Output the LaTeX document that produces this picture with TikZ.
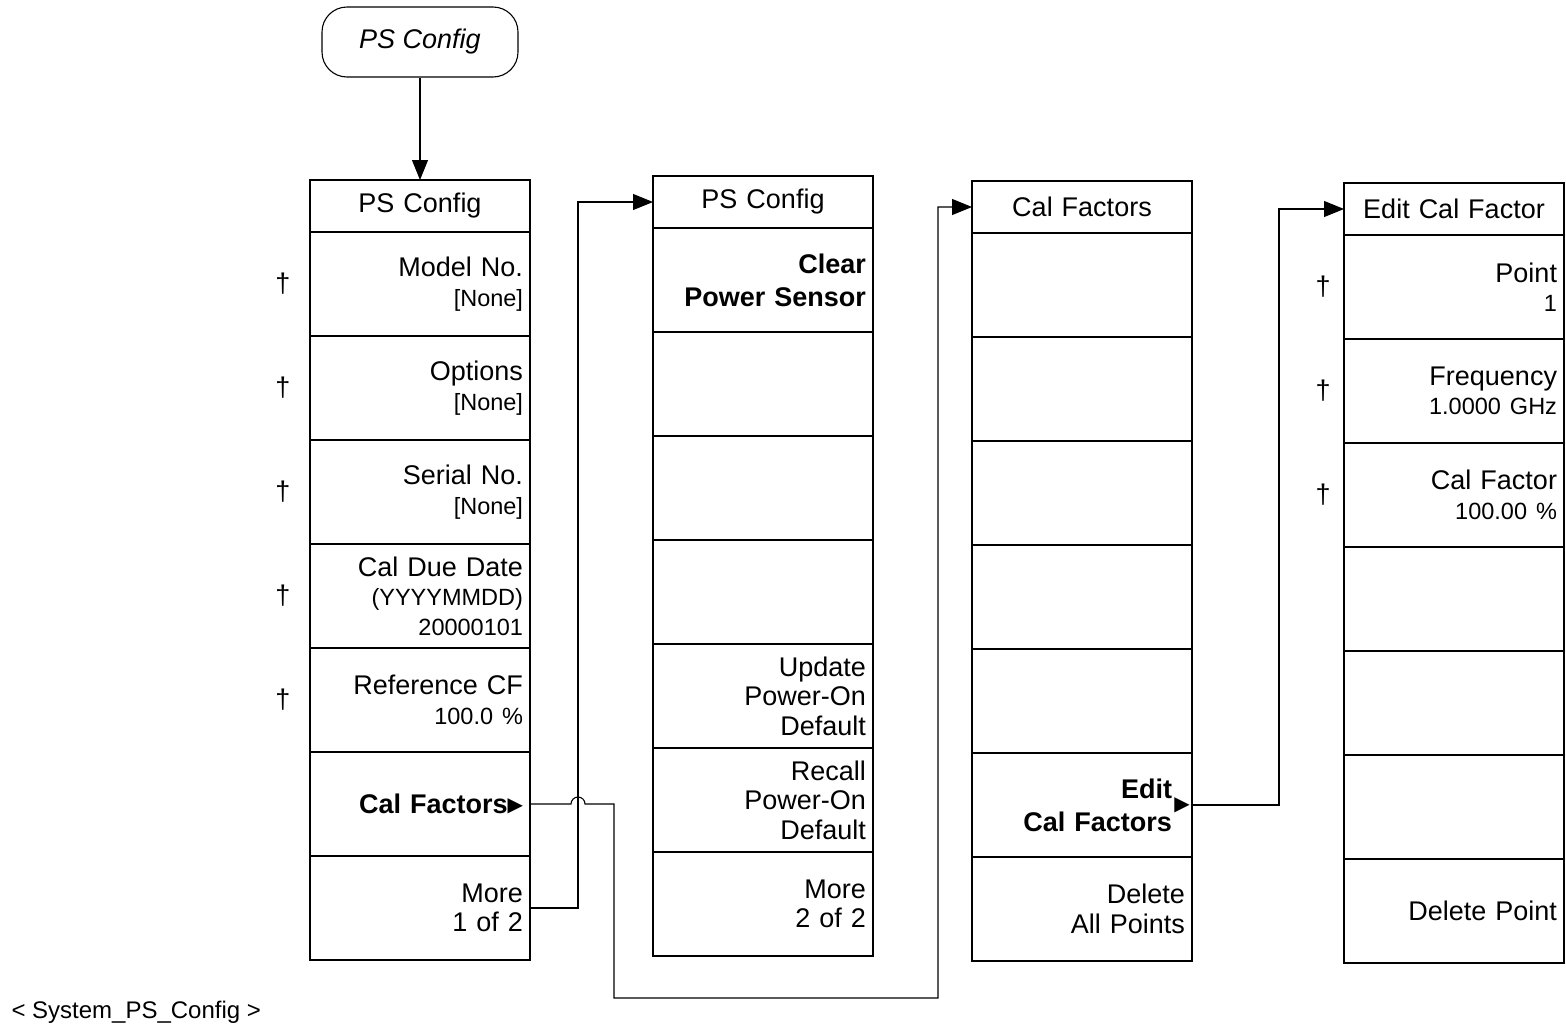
\documentclass[tikz,border=0pt]{standalone}
\usepackage{fontspec}
\setmainfont{Liberation Sans}
\newfontfamily\symfont{DejaVu Sans}
\usepackage{tikz}
\usetikzlibrary{arrows.meta,calc}
\newcommand\keyfont{\fontsize{27}{29.5}\selectfont}
\newcommand\smtxt[1]{{\fontsize{23.5}{27}\selectfont #1}}
\newcommand\keytri{{\symfont\fontsize{20}{20}\selectfont\raisebox{2pt}{▶}}}

\begin{document}
\begin{tikzpicture}[x=1pt, y=-1pt, >={Triangle[length=20pt,width=16pt]},
  key/.style={draw, line width=1.2pt, outer sep=0pt, inner xsep=7pt, inner ysep=0pt,
    text width=206pt, minimum height=104pt, align=right, font=\keyfont},
  keytitle/.style={key, minimum height=52pt, align=center},
  link/.style={->, line width=1.1pt},
  dag/.style={font=\keyfont}]
  \useasboundingbox (0,0) rectangle (1566,1031);

  \node[draw, line width=1.1pt, rounded corners=25pt, minimum width=196pt,
    minimum height=70pt, font=\keyfont\itshape] (ps) at (420,42) {PS Config};

  % PS Config 1 of 2
  \node[keytitle, anchor=north] (a0) at (420,180) {PS Config};
  \foreach \txt [count=\i] in {{Model No.\\\smtxt{[None]}}, {Options\\\smtxt{[None]}},
      {Serial No.\\\smtxt{[None]}}, {Cal Due Date\\\smtxt{(YYYYMMDD)}\\\smtxt{20000101}},
      {Reference CF\\\smtxt{100.0 \%}}, {\bfseries Cal Factors\keytri}, {More\\1 of 2}}{
    \pgfmathtruncatemacro\j{\i-1}
    \node[key, anchor=north] (a\i) at (a\j.south) {\txt};
  }
  \foreach \i in {1,...,5}
    \node[dag] at ([xshift=-27pt]a\i.west) {\textdagger};

  % PS Config 2 of 2
  \node[keytitle, anchor=north] (b0) at (763,176) {PS Config};
  \foreach \txt [count=\i] in {{\bfseries Clear\\[3.5pt]Power Sensor}, {}, {}, {},
      {Update\\Power-On\\Default}, {Recall\\Power-On\\Default}, {More\\2 of 2}}{
    \pgfmathtruncatemacro\j{\i-1}
    \node[key, anchor=north] (b\i) at (b\j.south) {\txt};
  }

  % Cal Factors
  \node[keytitle, anchor=north] (c0) at (1082,181) {Cal Factors};
  \foreach \txt [count=\i] in {{}, {}, {}, {}, {},
      {\bfseries Edit\rule{13pt}{0pt}\\[3.5pt]Cal Factors\rule{13pt}{0pt}}, {Delete\\All Points}}{
    \pgfmathtruncatemacro\j{\i-1}
    \node[key, anchor=north] (c\i) at (c\j.south) {\txt};
  }
  \node[font=\symfont\fontsize{20}{20}\selectfont, inner sep=0pt] (ctri)
    at ([xshift=-10pt]c6.east) {▶};

  % Edit Cal Factor
  \node[keytitle, anchor=north] (d0) at (1454,183) {Edit Cal Factor};
  \foreach \txt [count=\i] in {{Point\\\smtxt{1}}, {Frequency\\\smtxt{1.0000 GHz}},
      {Cal Factor\\\smtxt{100.00 \%}}, {}, {}, {}, {Delete Point}}{
    \pgfmathtruncatemacro\j{\i-1}
    \node[key, anchor=north] (d\i) at (d\j.south) {\txt};
  }
  \foreach \i in {1,...,3}
    \node[dag] at ([xshift=-21pt]d\i.west) {\textdagger};

  % links
  \draw[link] (ps) -- (a0);
  \coordinate (j1) at ($(a7.east)+(48,0)$);
  \draw[link] (a7.east) -- (j1) |- (b0.west);
  \draw[link] (a6.east) -- ($(j1|-a6.east)+(-7,0)$)
    arc[start angle=180, end angle=0, radius=7pt] -- ++(29,0) -- ++(0,194)
    -- ++(324,0) |- (c0.west);
  \draw[link] (c6.east) -- ++(87,0) |- (d0.west);

  \node[anchor=west, font=\fontsize{24}{26}\selectfont] (cap) at (8,1012)
    {< System\_PS\_Config >};
\end{tikzpicture}
\end{document}
